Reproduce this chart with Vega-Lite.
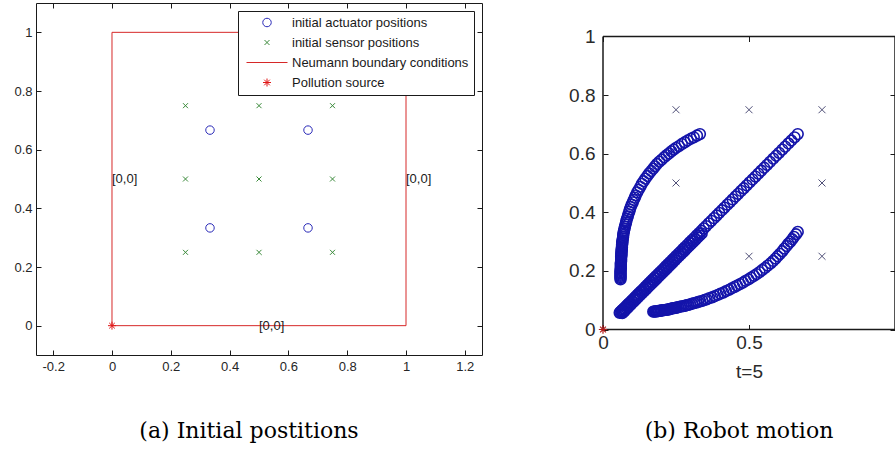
{
"$schema": "https://vega.github.io/schema/vega-lite/v6.json",
"padding": {"left": 13, "top": 2, "right": 0, "bottom": 0},
"spacing": 85,
"background": "white",
"config": {
  "font": "Liberation Sans",
  "axis": {"labelFlush": false, "labelOverlap": false, "grid": false, "domain": false}
},
"hconcat": [
{
  "width": 446, "height": 352,
  "view": {"stroke": "#1a1a1a"},
  "title": {"text": "(a) Initial postitions", "orient": "bottom", "frame": "group", "anchor": "middle", "dx": -10, "offset": 48, "font": "DejaVu Serif", "fontSize": 22, "fontWeight": "normal", "color": "#000000"},
  "resolve": {"axis": {"x": "independent", "y": "independent"}},
  "layer": [
    {
      "data": {"values": [{"x":0,"y":0,"o":1},{"x":1,"y":0,"o":2},{"x":1,"y":1,"o":3},{"x":0,"y":1,"o":4},{"x":0,"y":0,"o":5}]},
      "mark": {"type": "line", "color": "#d62828", "strokeWidth": 1},
      "encoding": {
        "x": {"field": "x", "type": "quantitative", "scale": {"domain": [-0.2585, 1.2585], "nice": false, "zero": false},
              "axis": {"orient": "bottom", "title": null, "values": [-0.2,0,0.2,0.4,0.6,0.8,1,1.2], "labelExpr": "datum.value < 0 ? '-' + format(-datum.value, '~g') : format(datum.value, '~g')", "tickSize": -5, "labelPadding": 10, "labelFontSize": 13, "labelColor": "#262626", "tickColor": "#1a1a1a"}},
        "y": {"field": "y", "type": "quantitative", "scale": {"domain": [-0.1, 1.1], "nice": false, "zero": false},
              "axis": {"orient": "left", "title": null, "values": [0,0.2,0.4,0.6,0.8,1], "labelExpr": "format(datum.value, '~g')", "tickSize": -5, "labelPadding": 9, "labelFontSize": 13, "labelColor": "#262626", "tickColor": "#1a1a1a"}},
        "order": {"field": "o", "type": "quantitative"}
      }
    },
    {
      "data": {"values": [{"x":0,"y":0.5,"t":"[0,0]"},{"x":1,"y":0.5,"t":"[0,0]"},{"x":0.5,"y":0,"t":"[0,0]"}]},
      "mark": {"type": "text", "align": "left", "baseline": "middle", "fontSize": 13, "color": "#1a1a1a"},
      "encoding": {
        "x": {"field": "x", "type": "quantitative", "scale": {"domain": [-0.2585, 1.2585], "nice": false, "zero": false},
              "axis": {"orient": "top", "title": null, "values": [-0.2,0,0.2,0.4,0.6,0.8,1,1.2], "labels": false, "tickSize": -5, "tickColor": "#1a1a1a"}},
        "y": {"field": "y", "type": "quantitative", "scale": {"domain": [-0.1, 1.1], "nice": false, "zero": false},
              "axis": {"orient": "right", "title": null, "values": [0,0.2,0.4,0.6,0.8,1], "labels": false, "tickSize": -5, "tickColor": "#1a1a1a"}},
        "text": {"field": "t", "type": "nominal"}
      }
    },
    {
      "data": {"values": [
        {"s":"initial actuator positions","x":0.3333,"y":0.3333},
        {"s":"initial actuator positions","x":0.3333,"y":0.6667},
        {"s":"initial actuator positions","x":0.6667,"y":0.3333},
        {"s":"initial actuator positions","x":0.6667,"y":0.6667},
        {"s":"initial sensor positions","x":0.25,"y":0.25},
        {"s":"initial sensor positions","x":0.5,"y":0.25},
        {"s":"initial sensor positions","x":0.75,"y":0.25},
        {"s":"initial sensor positions","x":0.25,"y":0.5},
        {"s":"initial sensor positions","x":0.5,"y":0.5},
        {"s":"initial sensor positions","x":0.75,"y":0.5},
        {"s":"initial sensor positions","x":0.25,"y":0.75},
        {"s":"initial sensor positions","x":0.5,"y":0.75},
        {"s":"initial sensor positions","x":0.75,"y":0.75},
        {"s":"Pollution source","x":0,"y":0}
      ]},
      "mark": {"type": "point", "filled": false, "strokeWidth": 1, "opacity": 1},
      "encoding": {
        "x": {"field": "x", "type": "quantitative", "scale": {"domain": [-0.2585, 1.2585], "nice": false, "zero": false}, "axis": null},
        "y": {"field": "y", "type": "quantitative", "scale": {"domain": [-0.1, 1.1], "nice": false, "zero": false}, "axis": null},
        "color": {"field": "s", "type": "nominal",
          "scale": {"domain": ["initial actuator positions","initial sensor positions","Neumann boundary conditions","Pollution source"], "range": ["#2a2ab8","#3a8a3a","#d62828","#e01818"]},
          "legend": {"title": null, "orient": "none", "legendX": 202, "legendY": 8, "padding": 5, "strokeColor": "#1a1a1a", "fillColor": "#ffffff", "labelFont": "Liberation Sans", "labelFontSize": 13, "labelColor": "#1a1a1a", "symbolStrokeWidth": 1, "clipHeight": 13, "rowPadding": 6, "labelOffset": 4, "symbolOffset": 3, "labelLimit": 400}},
        "shape": {"field": "s", "type": "nominal",
          "scale": {"domain": ["initial actuator positions","initial sensor positions","Neumann boundary conditions","Pollution source"], "range": ["circle","M-1,-1L1,1M-1,1L1,-1","stroke","M0,-1L0,1M-1,0L1,0M-0.7,-0.7L0.7,0.7M-0.7,0.7L0.7,-0.7"]},
          "legend": {"title": null, "orient": "none", "legendX": 202, "legendY": 8, "padding": 5, "strokeColor": "#1a1a1a", "fillColor": "#ffffff", "labelFont": "Liberation Sans", "labelFontSize": 13, "labelColor": "#1a1a1a", "symbolStrokeWidth": 1, "clipHeight": 13, "rowPadding": 6, "labelOffset": 4, "symbolOffset": 3, "labelLimit": 400}},
        "size": {"field": "s", "type": "nominal",
          "scale": {"type": "ordinal", "domain": ["initial actuator positions","initial sensor positions","Neumann boundary conditions","Pollution source"], "range": [72,25,1681,64]},
          "legend": {"title": null, "orient": "none", "legendX": 202, "legendY": 8, "padding": 5, "strokeColor": "#1a1a1a", "fillColor": "#ffffff", "labelFont": "Liberation Sans", "labelFontSize": 13, "labelColor": "#1a1a1a", "symbolStrokeWidth": 1, "clipHeight": 13, "rowPadding": 6, "labelOffset": 4, "symbolOffset": 3, "labelLimit": 400}}
      }
    }
  ]
},
{
  "width": 292, "height": 352,
  "view": {"stroke": null},
  "title": {"text": "(b) Robot motion", "orient": "bottom", "frame": "group", "anchor": "middle", "dx": -10, "offset": 39, "font": "DejaVu Serif", "fontSize": 22, "fontWeight": "normal", "color": "#000000"},
  "resolve": {"axis": {"x": "independent", "y": "independent"}},
  "layer": [
    {
      "data": {"values": [{"x":0,"y":0,"x2":1,"y2":0},{"x":0,"y":0,"x2":0,"y2":1},{"x":0,"y":1,"x2":1,"y2":1},{"x":1,"y":0,"x2":1,"y2":1}]},
      "mark": {"type": "rule", "color": "#1a1a1a", "strokeWidth": 1.5},
      "encoding": {
        "x": {"field": "x", "type": "quantitative", "scale": {"domain": [0, 1], "nice": false, "zero": false},
              "axis": {"orient": "bottom", "offset": -25.5, "title": "t=5", "titleFontSize": 19, "titleFontWeight": "normal", "titleColor": "#2a2a2a", "titlePadding": 10, "values": [0,0.5], "labelExpr": "format(datum.value, '~g')", "tickSize": -5, "labelPadding": 9, "labelFontSize": 19, "labelColor": "#2a2a2a", "tickColor": "#1a1a1a"}},
        "y": {"field": "y", "type": "quantitative", "scale": {"domain": [-0.087, 1.1143], "nice": false, "zero": false},
              "axis": {"orient": "left", "title": null, "values": [0,0.2,0.4,0.6,0.8,1], "labelExpr": "format(datum.value, '~g')", "tickSize": -5, "labelPadding": 13, "labelFontSize": 19, "labelColor": "#2a2a2a", "tickColor": "#1a1a1a"}},
        "x2": {"field": "x2"},
        "y2": {"field": "y2"}
      }
    },
    {
      "data": {"values": [
        {"x":0.25,"y":0.75},{"x":0.5,"y":0.75},{"x":0.75,"y":0.75},
        {"x":0.25,"y":0.5},{"x":0.75,"y":0.5},
        {"x":0.5,"y":0.25},{"x":0.75,"y":0.25}
      ]},
      "mark": {"type": "point", "filled": false, "shape": "M-1,-1L1,1M-1,1L1,-1", "size": 49, "strokeWidth": 1, "color": "#505078", "opacity": 1},
      "encoding": {
        "x": {"field": "x", "type": "quantitative", "scale": {"domain": [0, 1], "nice": false, "zero": false},
              "axis": {"orient": "top", "offset": -33.5, "title": null, "values": [0,0.5,1], "labels": false, "tickSize": -5, "tickColor": "#1a1a1a"}},
        "y": {"field": "y", "type": "quantitative", "scale": {"domain": [-0.087, 1.1143], "nice": false, "zero": false},
              "axis": {"orient": "right", "title": null, "values": [0,0.2,0.4,0.6,0.8,1], "labels": false, "tickSize": -5, "tickColor": "#1a1a1a"}}
      }
    },
    {
      "data": {"values": [
        {"g":"A","x":0.332,"y":0.667},{"g":"A","x":0.322,"y":0.662},{"g":"A","x":0.311,"y":0.656},{"g":"A","x":0.301,"y":0.651},
        {"g":"A","x":0.290,"y":0.645},{"g":"A","x":0.280,"y":0.639},{"g":"A","x":0.270,"y":0.633},{"g":"A","x":0.260,"y":0.626},
        {"g":"A","x":0.250,"y":0.620},{"g":"A","x":0.242,"y":0.614},{"g":"A","x":0.234,"y":0.608},{"g":"A","x":0.226,"y":0.601},
        {"g":"A","x":0.218,"y":0.595},{"g":"A","x":0.210,"y":0.588},{"g":"A","x":0.201,"y":0.580},{"g":"A","x":0.193,"y":0.573},
        {"g":"A","x":0.185,"y":0.565},{"g":"A","x":0.178,"y":0.557},{"g":"A","x":0.172,"y":0.549},{"g":"A","x":0.165,"y":0.541},
        {"g":"A","x":0.158,"y":0.533},{"g":"A","x":0.152,"y":0.524},{"g":"A","x":0.145,"y":0.515},{"g":"A","x":0.139,"y":0.506},
        {"g":"A","x":0.133,"y":0.497},{"g":"A","x":0.128,"y":0.487},{"g":"A","x":0.122,"y":0.477},{"g":"A","x":0.117,"y":0.468},
        {"g":"A","x":0.112,"y":0.458},{"g":"A","x":0.109,"y":0.450},{"g":"A","x":0.105,"y":0.442},{"g":"A","x":0.102,"y":0.434},{"g":"A","x":0.098,"y":0.426},
        {"g":"A","x":0.095,"y":0.418},{"g":"A","x":0.092,"y":0.410},{"g":"A","x":0.090,"y":0.402},{"g":"A","x":0.087,"y":0.394},{"g":"A","x":0.085,"y":0.386},
        {"g":"A","x":0.082,"y":0.378},{"g":"A","x":0.080,"y":0.371},{"g":"A","x":0.079,"y":0.365},{"g":"A","x":0.077,"y":0.358},{"g":"A","x":0.075,"y":0.351},{"g":"A","x":0.074,"y":0.345},
        {"g":"A","x":0.072,"y":0.338},{"g":"A","x":0.071,"y":0.333},{"g":"A","x":0.070,"y":0.327},{"g":"A","x":0.069,"y":0.322},{"g":"A","x":0.069,"y":0.316},{"g":"A","x":0.068,"y":0.311},{"g":"A","x":0.067,"y":0.305},
        {"g":"A","x":0.066,"y":0.300},{"g":"A","x":0.066,"y":0.296},{"g":"A","x":0.066,"y":0.292},{"g":"A","x":0.065,"y":0.288},{"g":"A","x":0.065,"y":0.284},{"g":"A","x":0.065,"y":0.280},{"g":"A","x":0.064,"y":0.276},{"g":"A","x":0.064,"y":0.272},{"g":"A","x":0.064,"y":0.268},{"g":"A","x":0.063,"y":0.264},
        {"g":"A","x":0.063,"y":0.260},{"g":"A","x":0.063,"y":0.256},{"g":"A","x":0.063,"y":0.252},{"g":"A","x":0.062,"y":0.248},{"g":"A","x":0.062,"y":0.244},{"g":"A","x":0.062,"y":0.240},{"g":"A","x":0.062,"y":0.236},{"g":"A","x":0.062,"y":0.232},{"g":"A","x":0.061,"y":0.228},{"g":"A","x":0.061,"y":0.224},
        {"g":"A","x":0.061,"y":0.220},{"g":"A","x":0.061,"y":0.216},{"g":"A","x":0.061,"y":0.212},{"g":"A","x":0.061,"y":0.208},{"g":"A","x":0.060,"y":0.203},{"g":"A","x":0.060,"y":0.199},{"g":"A","x":0.060,"y":0.195},{"g":"A","x":0.060,"y":0.191},{"g":"A","x":0.060,"y":0.187},{"g":"A","x":0.060,"y":0.183},{"g":"A","x":0.060,"y":0.179},{"g":"A","x":0.060,"y":0.175},{"g":"A","x":0.060,"y":0.171},
        {"g":"B","x":0.667,"y":0.667},{"g":"B","x":0.656,"y":0.656},{"g":"B","x":0.645,"y":0.645},{"g":"B","x":0.635,"y":0.635},{"g":"B","x":0.624,"y":0.624},{"g":"B","x":0.614,"y":0.614},{"g":"B","x":0.603,"y":0.603},{"g":"B","x":0.593,"y":0.593},
        {"g":"B","x":0.583,"y":0.583},{"g":"B","x":0.572,"y":0.572},{"g":"B","x":0.562,"y":0.562},{"g":"B","x":0.552,"y":0.552},{"g":"B","x":0.542,"y":0.542},{"g":"B","x":0.532,"y":0.532},{"g":"B","x":0.522,"y":0.522},{"g":"B","x":0.512,"y":0.512},
        {"g":"B","x":0.502,"y":0.502},{"g":"B","x":0.492,"y":0.492},{"g":"B","x":0.482,"y":0.482},{"g":"B","x":0.473,"y":0.473},{"g":"B","x":0.463,"y":0.463},{"g":"B","x":0.454,"y":0.454},{"g":"B","x":0.444,"y":0.444},{"g":"B","x":0.435,"y":0.435},
        {"g":"B","x":0.426,"y":0.426},{"g":"B","x":0.416,"y":0.416},{"g":"B","x":0.407,"y":0.407},{"g":"B","x":0.398,"y":0.398},{"g":"B","x":0.389,"y":0.389},{"g":"B","x":0.380,"y":0.380},{"g":"B","x":0.371,"y":0.371},{"g":"B","x":0.362,"y":0.362},
        {"g":"B","x":0.353,"y":0.353},{"g":"B","x":0.345,"y":0.345},{"g":"B","x":0.337,"y":0.337},{"g":"B","x":0.329,"y":0.329},{"g":"B","x":0.321,"y":0.321},{"g":"B","x":0.313,"y":0.313},{"g":"B","x":0.305,"y":0.305},{"g":"B","x":0.297,"y":0.297},
        {"g":"B","x":0.289,"y":0.289},{"g":"B","x":0.281,"y":0.281},{"g":"B","x":0.274,"y":0.274},{"g":"B","x":0.266,"y":0.266},{"g":"B","x":0.259,"y":0.259},{"g":"B","x":0.251,"y":0.251},{"g":"B","x":0.244,"y":0.244},{"g":"B","x":0.237,"y":0.237},
        {"g":"B","x":0.230,"y":0.230},{"g":"B","x":0.223,"y":0.223},{"g":"B","x":0.216,"y":0.216},{"g":"B","x":0.209,"y":0.209},{"g":"B","x":0.202,"y":0.202},{"g":"B","x":0.195,"y":0.195},{"g":"B","x":0.189,"y":0.189},{"g":"B","x":0.182,"y":0.182},
        {"g":"B","x":0.176,"y":0.176},{"g":"B","x":0.170,"y":0.170},{"g":"B","x":0.164,"y":0.164},{"g":"B","x":0.158,"y":0.158},{"g":"B","x":0.152,"y":0.152},{"g":"B","x":0.146,"y":0.146},{"g":"B","x":0.140,"y":0.140},{"g":"B","x":0.134,"y":0.134},
        {"g":"B","x":0.129,"y":0.129},{"g":"B","x":0.123,"y":0.123},{"g":"B","x":0.118,"y":0.118},{"g":"B","x":0.113,"y":0.113},{"g":"B","x":0.108,"y":0.108},{"g":"B","x":0.103,"y":0.103},{"g":"B","x":0.098,"y":0.098},{"g":"B","x":0.093,"y":0.093},
        {"g":"B","x":0.088,"y":0.088},{"g":"B","x":0.084,"y":0.084},{"g":"B","x":0.080,"y":0.080},{"g":"B","x":0.076,"y":0.076},{"g":"B","x":0.072,"y":0.072},{"g":"B","x":0.068,"y":0.068},{"g":"B","x":0.065,"y":0.065},{"g":"B","x":0.062,"y":0.062},{"g":"B","x":0.059,"y":0.059},{"g":"B","x":0.057,"y":0.057},
        {"g":"C","x":0.338,"y":0.328},{"g":"C","x":0.331,"y":0.321},{"g":"C","x":0.324,"y":0.314},{"g":"C","x":0.317,"y":0.307},{"g":"C","x":0.310,"y":0.300},{"g":"C","x":0.303,"y":0.293},{"g":"C","x":0.296,"y":0.286},{"g":"C","x":0.289,"y":0.279},
        {"g":"C","x":0.282,"y":0.272},{"g":"C","x":0.275,"y":0.265},{"g":"C","x":0.268,"y":0.258},{"g":"C","x":0.261,"y":0.251},{"g":"C","x":0.254,"y":0.244},{"g":"C","x":0.247,"y":0.237},{"g":"C","x":0.240,"y":0.230},{"g":"C","x":0.233,"y":0.223},
        {"g":"C","x":0.226,"y":0.216},{"g":"C","x":0.219,"y":0.209},{"g":"C","x":0.212,"y":0.202},{"g":"C","x":0.205,"y":0.195},{"g":"C","x":0.198,"y":0.188},{"g":"C","x":0.191,"y":0.181},{"g":"C","x":0.184,"y":0.174},{"g":"C","x":0.177,"y":0.167},
        {"g":"C","x":0.170,"y":0.160},{"g":"C","x":0.163,"y":0.153},{"g":"C","x":0.156,"y":0.146},{"g":"C","x":0.149,"y":0.139},{"g":"C","x":0.142,"y":0.132},{"g":"C","x":0.135,"y":0.125},{"g":"C","x":0.128,"y":0.118},{"g":"C","x":0.121,"y":0.111},
        {"g":"C","x":0.115,"y":0.105},{"g":"C","x":0.109,"y":0.099},{"g":"C","x":0.103,"y":0.093},{"g":"C","x":0.097,"y":0.087},{"g":"C","x":0.092,"y":0.082},{"g":"C","x":0.087,"y":0.077},{"g":"C","x":0.082,"y":0.072},{"g":"C","x":0.077,"y":0.067},
        {"g":"C","x":0.073,"y":0.063},{"g":"C","x":0.069,"y":0.059},{"g":"C","x":0.066,"y":0.056},
        {"g":"D","x":0.667,"y":0.333},{"g":"D","x":0.661,"y":0.325},{"g":"D","x":0.654,"y":0.316},
        {"g":"D","x":0.648,"y":0.308},{"g":"D","x":0.642,"y":0.300},{"g":"D","x":0.635,"y":0.293},
        {"g":"D","x":0.629,"y":0.285},{"g":"D","x":0.621,"y":0.276},{"g":"D","x":0.614,"y":0.267},
        {"g":"D","x":0.606,"y":0.258},{"g":"D","x":0.598,"y":0.250},{"g":"D","x":0.591,"y":0.242},
        {"g":"D","x":0.583,"y":0.234},{"g":"D","x":0.574,"y":0.226},{"g":"D","x":0.564,"y":0.218},
        {"g":"D","x":0.555,"y":0.210},{"g":"D","x":0.545,"y":0.203},{"g":"D","x":0.536,"y":0.196},
        {"g":"D","x":0.526,"y":0.189},{"g":"D","x":0.517,"y":0.183},{"g":"D","x":0.507,"y":0.177},
        {"g":"D","x":0.498,"y":0.171},{"g":"D","x":0.488,"y":0.166},{"g":"D","x":0.479,"y":0.160},
        {"g":"D","x":0.469,"y":0.155},{"g":"D","x":0.459,"y":0.150},{"g":"D","x":0.450,"y":0.145},
        {"g":"D","x":0.440,"y":0.140},{"g":"D","x":0.431,"y":0.135},{"g":"D","x":0.421,"y":0.131},
        {"g":"D","x":0.412,"y":0.126},{"g":"D","x":0.402,"y":0.122},{"g":"D","x":0.393,"y":0.118},
        {"g":"D","x":0.383,"y":0.114},{"g":"D","x":0.374,"y":0.110},{"g":"D","x":0.364,"y":0.107},
        {"g":"D","x":0.355,"y":0.103},{"g":"D","x":0.348,"y":0.101},{"g":"D","x":0.340,"y":0.098},{"g":"D","x":0.333,"y":0.096},
        {"g":"D","x":0.326,"y":0.094},{"g":"D","x":0.319,"y":0.092},{"g":"D","x":0.312,"y":0.090},{"g":"D","x":0.305,"y":0.088},
        {"g":"D","x":0.298,"y":0.086},{"g":"D","x":0.292,"y":0.084},{"g":"D","x":0.287,"y":0.083},{"g":"D","x":0.281,"y":0.081},
        {"g":"D","x":0.275,"y":0.080},{"g":"D","x":0.269,"y":0.079},{"g":"D","x":0.264,"y":0.078},{"g":"D","x":0.258,"y":0.076},
        {"g":"D","x":0.252,"y":0.075},{"g":"D","x":0.248,"y":0.074},{"g":"D","x":0.245,"y":0.073},{"g":"D","x":0.241,"y":0.073},{"g":"D","x":0.237,"y":0.072},{"g":"D","x":0.234,"y":0.071},
        {"g":"D","x":0.230,"y":0.070},{"g":"D","x":0.227,"y":0.069},{"g":"D","x":0.223,"y":0.069},{"g":"D","x":0.220,"y":0.068},{"g":"D","x":0.217,"y":0.067},{"g":"D","x":0.213,"y":0.067},
        {"g":"D","x":0.210,"y":0.066},{"g":"D","x":0.207,"y":0.066},{"g":"D","x":0.203,"y":0.065},{"g":"D","x":0.200,"y":0.065},{"g":"D","x":0.197,"y":0.064},{"g":"D","x":0.193,"y":0.064},
        {"g":"D","x":0.190,"y":0.063},{"g":"D","x":0.187,"y":0.063},{"g":"D","x":0.184,"y":0.062},{"g":"D","x":0.181,"y":0.062},{"g":"D","x":0.178,"y":0.062},{"g":"D","x":0.175,"y":0.061},{"g":"D","x":0.172,"y":0.061}
      ]},
      "mark": {"type": "point", "shape": "circle", "filled": false, "size": 115, "strokeWidth": 1.6, "color": "#1414aa", "opacity": 1},
      "encoding": {
        "x": {"field": "x", "type": "quantitative", "scale": {"domain": [0, 1], "nice": false, "zero": false}, "axis": null},
        "y": {"field": "y", "type": "quantitative", "scale": {"domain": [-0.087, 1.1143], "nice": false, "zero": false}, "axis": null}
      }
    },
    {
      "data": {"values": [{"x":0,"y":0}]},
      "mark": {"type": "point", "shape": "M0,-1L0,1M-1,0L1,0M-0.7,-0.7L0.7,0.7M-0.7,0.7L0.7,-0.7", "filled": false, "size": 70, "strokeWidth": 1.2, "color": "#b01c1c", "opacity": 1},
      "encoding": {
        "x": {"field": "x", "type": "quantitative", "scale": {"domain": [0, 1], "nice": false, "zero": false}, "axis": null},
        "y": {"field": "y", "type": "quantitative", "scale": {"domain": [-0.087, 1.1143], "nice": false, "zero": false}, "axis": null}
      }
    }
  ]
}
]
}
